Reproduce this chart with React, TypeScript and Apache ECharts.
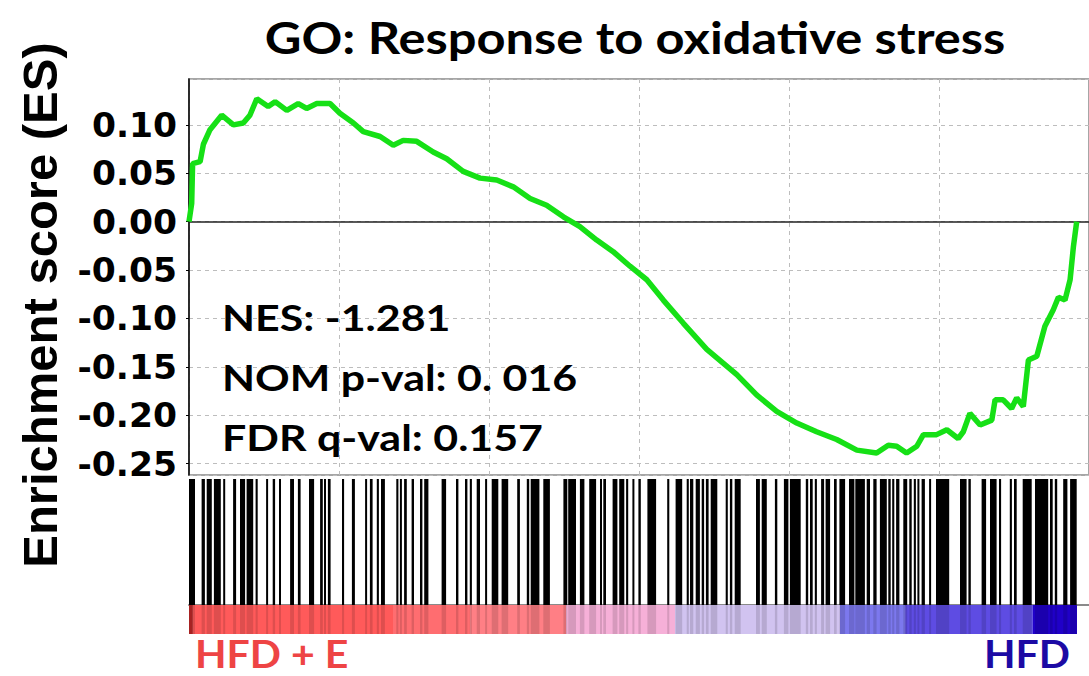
import React, { useEffect, useRef } from "react";
import * as echarts from "echarts";

// Running enrichment score: gene rank and ES value
const esRank = [
  0, 90, 120, 370, 480, 700, 1090, 1480, 1810, 2030, 2260, 2640, 2870, 3260, 3640, 3920, 4260, 4700,
  5030, 5480, 5810, 6370, 6810, 7140, 7590, 8140, 8590, 9140, 9700, 10260, 10810, 11370, 11920,
  12480, 13030, 13590, 14140, 14700, 15260, 15810, 16480, 17260, 18260, 18920, 19590, 20260, 20920,
  21590, 22260, 22920, 23310, 23590, 23920, 24260, 24480, 24920, 25260, 25640, 25810, 26030, 26370,
  26760, 26870, 27140, 27420, 27590, 27810, 27980, 28260, 28530, 28810, 28980, 29200, 29370, 29480,
  29590,
];
const esValue = [
  0, 0.019, 0.06, 0.062, 0.08, 0.095, 0.11, 0.1, 0.102, 0.11, 0.127, 0.119, 0.124, 0.115, 0.122, 0.117,
  0.122, 0.122, 0.112, 0.102, 0.093, 0.088, 0.079, 0.084, 0.083, 0.072, 0.065, 0.052, 0.045, 0.043,
  0.036, 0.024, 0.017, 0.005, -0.005, -0.019, -0.031, -0.046, -0.06, -0.081, -0.105, -0.132, -0.158,
  -0.179, -0.196, -0.208, -0.217, -0.225, -0.236, -0.239, -0.231, -0.232, -0.239, -0.232, -0.22,
  -0.22, -0.215, -0.224, -0.217, -0.198, -0.21, -0.205, -0.184, -0.184, -0.193, -0.182, -0.191,
  -0.143, -0.139, -0.108, -0.091, -0.078, -0.081, -0.06, -0.026, 0,
];

// Hit clusters (start rank, end rank) of gene-set members in the ranked list
const hitBlocks = [
  [0, 200], [420, 530], [590, 760], [830, 1060], [1140, 1200], [1470, 1570], [1700, 1870],
  [1920, 2140], [2220, 2290], [2570, 2630], [2790, 2870], [3000, 3060], [3370, 3500], [3630, 3720],
  [4000, 4170], [4370, 4460], [4500, 4560], [4630, 4720], [5100, 5170], [5430, 5530], [5870, 5930],
  [6030, 6120], [6260, 6330], [6400, 6530], [6910, 6980], [7030, 7090], [7170, 7260], [7420, 7500],
  [7700, 7780], [7840, 7980], [8420, 8570], [8900, 8980], [9200, 9280], [9360, 9430], [9590, 9700],
  [9870, 9930], [10090, 10310], [10420, 10640], [10940, 11030], [11260, 11340], [11390, 11680],
  [11810, 12030], [12480, 12610], [12640, 12900], [13030, 13180], [13340, 13570], [13700, 13760],
  [13810, 13900], [14120, 14280], [14340, 14510], [14570, 14640], [14780, 14840], [14980, 15060],
  [15280, 15570], [15940, 16010], [16220, 16440], [16590, 16660], [16700, 16810], [16890, 17030],
  [17090, 17170], [17230, 17320], [17390, 17610], [17890, 17960], [18030, 18110], [18190, 18390],
  [18900, 19030], [19090, 19260], [19530, 19610], [19830, 19980], [20030, 20390], [20560, 20640],
  [20700, 20790], [20860, 20930], [21070, 21170], [21220, 21370], [21500, 21590], [21680, 21870],
  [22000, 22180], [22210, 22530], [22590, 22700], [22810, 22920], [23030, 23260], [23310, 23390],
  [23440, 23510], [23570, 23680], [23810, 23940], [24010, 24090], [24160, 24230], [24280, 24340],
  [24420, 24530], [24670, 24730], [24900, 25340], [25700, 25920], [25980, 26060], [26420, 26570],
  [26700, 26920], [27000, 27070], [27360, 27430], [27500, 27590], [27790, 28090], [28200, 28640],
  [28700, 28790], [28860, 28940], [29140, 29280], [29370, 29590],
];

// Ranked-list metric segments (start rank, end rank, metric)
const metricSegments = [
  [0, 130, 1.0], [130, 6800, 0.75], [6800, 9370, 0.62], [9370, 12570, 0.5], [12570, 16200, 0.25],
  [16200, 21700, -0.1], [21700, 23870, -0.5], [23870, 28130, -0.72], [28130, 29600, -1.0],
];

const yTickLabels = ["0.10", "0.05", "0.00", "-0.05", "-0.10", "-0.15", "-0.20", "-0.25"];

const titleText = "GO: Response to oxidative stress";
const yTitle = "Enrichment score (ES)";
const statLines = ["NES: -1.281", "NOM p-val: 0. 016", "FDR q-val: 0.157"];
const leftLabel = "HFD + E";
const rightLabel = "HFD";

export default function App() {
  const ref = useRef<HTMLDivElement>(null);
  useEffect(() => {
    if (!ref.current) return;
    const chart = echarts.init(ref.current, null, { renderer: "svg" });
    const esData = esRank.map((r, i) => [r, esValue[i]]);
    const gridLeft = 189;
    const gridW = 900;
    const textFont = "Lato";
    const option: any = {
      animation: false,
      backgroundColor: "#ffffff",
      grid: [
        { left: gridLeft, top: 79, width: gridW, height: 396, show: true, borderColor: "#a6a6a6", borderWidth: 2 },
        { left: gridLeft, top: 479, width: gridW, height: 126 },
        { left: gridLeft, top: 605, width: gridW, height: 29 },
      ],
      xAxis: [
        {
          gridIndex: 0, type: "value", min: 0, max: 30000, interval: 5000,
          axisLabel: { show: false }, axisTick: { show: false }, axisLine: { show: false },
          splitLine: { show: true, lineStyle: { color: "#bdbdbd", type: [4, 4], width: 1 } },
        },
        {
          gridIndex: 1, type: "value", min: 0, max: 30000,
          axisLabel: { show: false }, axisTick: { show: false }, splitLine: { show: false },
          axisLine: { show: true, lineStyle: { color: "#8a8a8a", width: 2 } },
        },
        {
          gridIndex: 2, type: "value", min: 0, max: 30000,
          axisLabel: { show: false }, axisTick: { show: false }, splitLine: { show: false },
          axisLine: { show: false },
        },
      ],
      yAxis: [
        {
          gridIndex: 0, type: "value", min: -0.2617, max: 0.1474, splitNumber: 8,
          minInterval: 0.05, maxInterval: 0.05,
          axisLine: { show: true, lineStyle: { color: "#000", width: 1.5 } },
          axisTick: { show: true, length: 3, lineStyle: { color: "#000" } },
          axisLabel: {
            showMinLabel: false, showMaxLabel: false, margin: 12,
            fontFamily: "DejaVu Sans", fontWeight: "bold", fontSize: 34.5, color: "#000",
            formatter: (v: number) => {
              const s = v.toFixed(2);
              const t = s === "-0.00" ? "0.00" : s;
              return yTickLabels.includes(t) ? t : "";
            },
          },
          splitLine: { show: true, lineStyle: { color: "#bdbdbd", type: [4, 4], width: 1 } },
        },
        { gridIndex: 1, type: "value", min: 0, max: 1, show: false },
        { gridIndex: 2, type: "value", min: 0, max: 1, show: false },
      ],
      visualMap: {
        show: false, type: "continuous", min: -1, max: 1, dimension: 2, seriesIndex: 2,
        inRange: {
          color: ["#2000c8", "#5a46e2", "#7c78ee", "#b4b4ee", "#e4cdf2", "#f6b0d8", "#ff7f85", "#ff5a5a", "#c02828"],
        },
      },
      series: [
        {
          type: "line", xAxisIndex: 0, yAxisIndex: 0, data: esData, showSymbol: false, symbol: "none",
          lineStyle: { color: "#16e016", width: 5.5 }, z: 5,
          markLine: {
            silent: true, symbol: "none", label: { show: false },
            lineStyle: { color: "#222", width: 1.5, type: "solid" },
            data: [{ yAxis: 0 }],
          },
        },
        {
          type: "custom", xAxisIndex: 1, yAxisIndex: 1, data: hitBlocks,
          encode: { x: [0, 1] },
          renderItem: (params: any, api: any) => {
            const p0 = api.coord([api.value(0), 1]);
            const p1 = api.coord([api.value(1), 0]);
            const w = Math.max(p1[0] - p0[0], 2);
            return { type: "rect", shape: { x: p0[0], y: p0[1], width: w, height: p1[1] - p0[1] }, style: { fill: "#000" } };
          },
        },
        {
          type: "custom", xAxisIndex: 2, yAxisIndex: 2, data: metricSegments,
          encode: { x: [0, 1] },
          renderItem: (params: any, api: any) => {
            const p0 = api.coord([api.value(0), 1]);
            const p1 = api.coord([api.value(1), 0]);
            return {
              type: "rect",
              shape: { x: p0[0], y: p0[1], width: p1[0] - p0[0], height: p1[1] - p0[1] },
              style: { fill: api.visual("color") },
            };
          },
        },
        {
          type: "custom", xAxisIndex: 2, yAxisIndex: 2, data: hitBlocks,
          encode: { x: [0, 1] },
          renderItem: (params: any, api: any) => {
            const p0 = api.coord([api.value(0), 1]);
            const p1 = api.coord([api.value(1), 0]);
            const w = Math.max(p1[0] - p0[0], 2);
            return { type: "rect", shape: { x: p0[0], y: p0[1], width: w, height: p1[1] - p0[1] }, style: { fill: "rgba(0,0,0,0.13)" } };
          },
          z: 3,
        },
      ],
      graphic: [
        {
          type: "text", x: 635, y: 37, scaleX: 1.15,
          style: { text: titleText, fontFamily: textFont, fontWeight: "bold", fontSize: 44, fill: "#000", textAlign: "center", textVerticalAlign: "middle" },
        },
        {
          type: "text", x: 40, y: 305, rotation: Math.PI / 2,
          style: { text: yTitle, fontFamily: "Liberation Sans", fontWeight: "bold", fontSize: 49, fill: "#000", textAlign: "center", textVerticalAlign: "middle" },
        },
        ...statLines.map((t, i) => ({
          type: "text", x: 222, y: 317 + i * 60, z: 10, scaleX: 1.16,
          style: { text: t, fontFamily: textFont, fontWeight: "bold", fontSize: 37, fill: "#000", textAlign: "left", textVerticalAlign: "middle" },
        })),
        {
          type: "text", x: 195, y: 653, scaleX: 1.08,
          style: { text: leftLabel, fontFamily: textFont, fontWeight: "bold", fontSize: 38, fill: "#ee4444", textAlign: "left", textVerticalAlign: "middle" },
        },
        {
          type: "text", x: 1070, y: 653, scaleX: 1.08,
          style: { text: rightLabel, fontFamily: textFont, fontWeight: "bold", fontSize: 38, fill: "#1c0aa4", textAlign: "right", textVerticalAlign: "middle" },
        },
      ],
    };
    chart.setOption(option);
    return () => chart.dispose();
  }, []);
  return <div ref={ref} style={{ position: "fixed", left: 0, top: 0, width: 1089, height: 676, background: "#fff" }} />;
}
